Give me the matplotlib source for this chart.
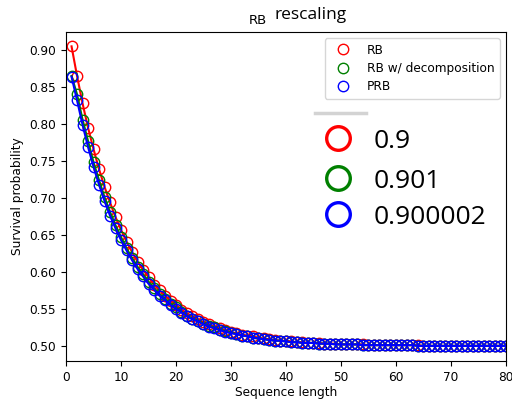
import matplotlib
matplotlib.use("Agg")
import matplotlib.pyplot as plt
from matplotlib.lines import Line2D

seq_len = list(range(1, 81))

rb = [0.905, 0.865, 0.828, 0.795, 0.766, 0.739, 0.715, 0.694, 0.674, 0.657,
      0.641, 0.627, 0.614, 0.603, 0.593, 0.583, 0.575, 0.568, 0.561, 0.555,
      0.549, 0.544, 0.540, 0.536, 0.532, 0.529, 0.526, 0.524, 0.521, 0.519,
      0.517, 0.515, 0.514, 0.513, 0.511, 0.510, 0.509, 0.508, 0.507, 0.507,
      0.506, 0.505, 0.505, 0.504, 0.504, 0.504, 0.503, 0.503, 0.503, 0.502,
      0.502, 0.502, 0.502, 0.502, 0.501, 0.501, 0.501, 0.501, 0.501, 0.501,
      0.501, 0.501, 0.501, 0.501, 0.500, 0.500, 0.500, 0.500, 0.500, 0.500,
      0.500, 0.500, 0.500, 0.500, 0.500, 0.500, 0.500, 0.500, 0.500, 0.500]

rb_decomp = [0.865, 0.840, 0.806, 0.777, 0.748, 0.724, 0.701, 0.681, 0.663, 0.647,
             0.632, 0.619, 0.607, 0.597, 0.587, 0.578, 0.570, 0.564, 0.557, 0.552,
             0.546, 0.541, 0.537, 0.534, 0.530, 0.527, 0.525, 0.522, 0.520, 0.518,
             0.516, 0.514, 0.513, 0.511, 0.510, 0.509, 0.508, 0.507, 0.507, 0.506,
             0.505, 0.505, 0.504, 0.504, 0.504, 0.503, 0.503, 0.503, 0.502, 0.502,
             0.502, 0.502, 0.502, 0.501, 0.501, 0.501, 0.501, 0.501, 0.501, 0.501,
             0.501, 0.501, 0.501, 0.500, 0.500, 0.500, 0.500, 0.500, 0.500, 0.500,
             0.500, 0.500, 0.500, 0.500, 0.500, 0.500, 0.500, 0.500, 0.500, 0.500]

prb = [0.864, 0.832, 0.799, 0.769, 0.742, 0.718, 0.696, 0.676, 0.659, 0.643,
       0.629, 0.616, 0.604, 0.594, 0.584, 0.576, 0.568, 0.562, 0.555, 0.550,
       0.545, 0.540, 0.536, 0.533, 0.529, 0.526, 0.524, 0.521, 0.519, 0.517,
       0.516, 0.514, 0.513, 0.511, 0.510, 0.509, 0.508, 0.507, 0.507, 0.506,
       0.505, 0.505, 0.504, 0.504, 0.504, 0.503, 0.503, 0.503, 0.502, 0.502,
       0.502, 0.502, 0.502, 0.501, 0.501, 0.501, 0.501, 0.501, 0.501, 0.501,
       0.501, 0.501, 0.501, 0.500, 0.500, 0.500, 0.500, 0.500, 0.500, 0.500,
       0.500, 0.500, 0.500, 0.500, 0.500, 0.500, 0.500, 0.500, 0.500, 0.500]

series_labels = ["RB", "RB w/ decomposition", "PRB"]
series_colors = ["red", "green", "blue"]
fidelity_labels = ["0.9", "0.901", "0.900002"]

FS = 8.7
fig = plt.figure(figsize=(5.12, 4.01), dpi=100)
ax = fig.add_axes([0.129, 0.100, 0.859, 0.820])

for vals, lab, col in zip([rb, rb_decomp, prb], series_labels, series_colors):
    ax.plot(seq_len, vals, '-', color=col, lw=1.5)
    ax.plot(seq_len, vals, 'o', mfc='none', mec=col, ms=7.5, mew=1.0,
            label=lab, linestyle='none')

ax.set_xlim(0, 80)
ax.set_ylim(0.4797, 0.9243)
ax.set_xticks(range(0, 81, 10))
ax.set_yticks([0.50, 0.55, 0.60, 0.65, 0.70, 0.75, 0.80, 0.85, 0.90])
ax.tick_params(labelsize=FS)
ax.set_xlabel("Sequence length", fontsize=FS, labelpad=2)
ax.set_ylabel("Survival probability", fontsize=FS, labelpad=4)
ax.legend(loc="upper right", fontsize=FS, handletextpad=1.0, borderpad=0.45,
          labelspacing=0.45)

# title (two fonts)
fig.text(267 / 512, 1 - 20 / 401, "RB", fontsize=9.5, ha="right", va="center",
         family="DejaVu Sans")
fig.text(275 / 512, 1 - 15 / 401, "rescaling", fontsize=12.5, ha="left",
         va="center", family="Open Sans")

# pasted overlay legend
W, H = 512, 401
fig.add_artist(Line2D([315 / W, 366 / W], [1 - 113 / H, 1 - 113 / H],
                      transform=fig.transFigure, color="#d3d3d3", lw=2.5))
for i, (lab, col) in enumerate(zip(fidelity_labels, series_colors)):
    yc = [138, 178, 214][i]
    fig.add_artist(Line2D([338 / W], [1 - yc / H], transform=fig.transFigure,
                          marker='o', ms=17, mfc='none', mec=col, mew=2.4,
                          linestyle='none'))
    fig.text(374 / W, 1 - (yc + 3) / H, lab, fontsize=19, ha="left",
             va="center", family="Open Sans")

fig.savefig("out.png", dpi=100)
